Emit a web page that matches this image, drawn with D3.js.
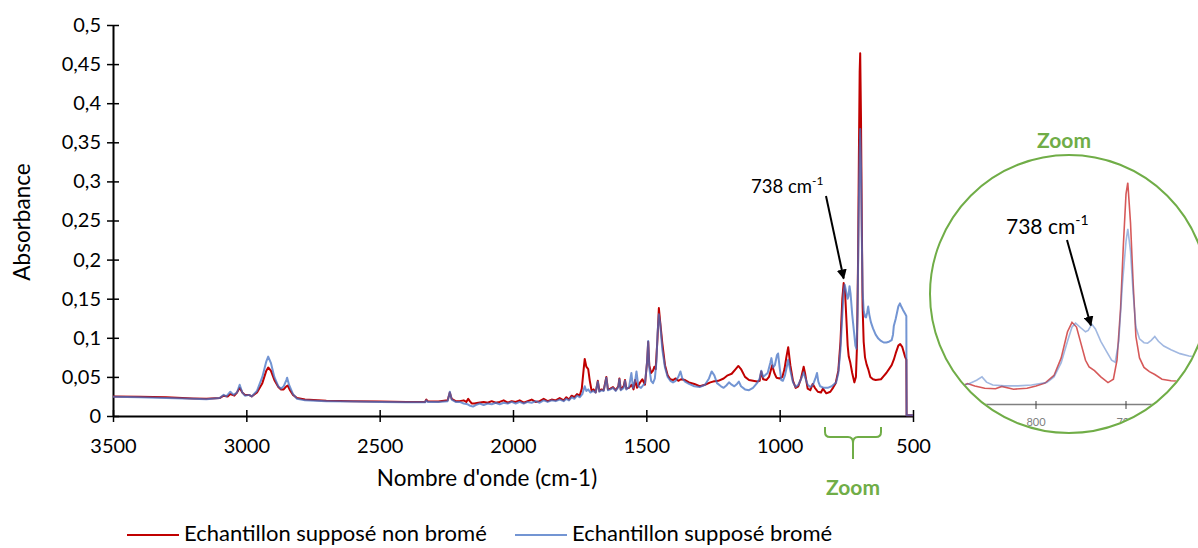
<!DOCTYPE html>
<html><head><meta charset="utf-8">
<script src="https://cdn.jsdelivr.net/npm/d3@7"></script>
<style>body{margin:0;background:#fff}svg{display:block}text{font-family:Lato,"Open Sans",sans-serif}</style>
</head><body><svg id="c" width="1198" height="548"></svg>
<script>
// ---------- data (wavenumber cm-1, absorbance) ----------
const xTicks = [3500,3000,2500,2000,1500,1000,500];
const yTicks = [0,0.05,0.1,0.15,0.2,0.25,0.3,0.35,0.4,0.45,0.5];
const seriesNames = ["Echantillon supposé non bromé","Echantillon supposé bromé"];
const redSeries = [
[3500,0.025],[3400,0.0245],[3300,0.024],[3200,0.0225],[3150,0.022],[3100,0.023],[3085,0.026],[3070,0.025],[3060,0.028],[3045,0.026],[3035,0.030],[3025,0.036],[3015,0.030],[3005,0.027],[2990,0.027],[2980,0.025],[2960,0.030],[2940,0.042],[2925,0.058],[2918,0.062],[2908,0.058],[2895,0.046],[2880,0.037],[2870,0.034],[2860,0.034],[2850,0.038],[2845,0.039],[2838,0.034],[2825,0.027],[2810,0.023],[2780,0.021],[2700,0.0195],[2600,0.019],[2500,0.0185],[2400,0.018],[2330,0.018],[2325,0.021],[2320,0.019],[2280,0.0185],[2245,0.020],[2237,0.030],[2230,0.022],[2215,0.019],[2200,0.019],[2185,0.020],[2175,0.018],[2168,0.022],[2162,0.019],[2155,0.016],[2145,0.016],[2130,0.017],[2110,0.018],[2095,0.017],[2080,0.019],[2065,0.017],[2050,0.018],[2035,0.020],[2020,0.017],[2005,0.019],[1990,0.018],[1975,0.020],[1960,0.017],[1945,0.019],[1930,0.021],[1915,0.018],[1900,0.019],[1885,0.022],[1870,0.019],[1855,0.021],[1840,0.020],[1825,0.023],[1810,0.020],[1800,0.024],[1790,0.021],[1780,0.026],[1770,0.024],[1760,0.028],[1750,0.026],[1742,0.035],[1735,0.060],[1731,0.073],[1725,0.063],[1718,0.060],[1712,0.045],[1705,0.032],[1698,0.034],[1690,0.030],[1682,0.045],[1676,0.032],[1668,0.034],[1660,0.033],[1650,0.050],[1644,0.034],[1635,0.035],[1625,0.037],[1615,0.033],[1605,0.038],[1601,0.048],[1596,0.034],[1585,0.038],[1580,0.046],[1575,0.035],[1565,0.036],[1555,0.040],[1548,0.034],[1542,0.046],[1535,0.036],[1525,0.042],[1515,0.047],[1505,0.040],[1497,0.070],[1493,0.095],[1489,0.065],[1482,0.055],[1475,0.058],[1470,0.063],[1465,0.060],[1458,0.100],[1453,0.138],[1448,0.120],[1440,0.093],[1430,0.065],[1420,0.052],[1410,0.047],[1400,0.046],[1390,0.048],[1380,0.045],[1370,0.047],[1355,0.046],[1340,0.043],[1320,0.041],[1300,0.038],[1280,0.040],[1260,0.043],[1250,0.044],[1230,0.045],[1210,0.048],[1195,0.052],[1180,0.054],[1165,0.060],[1155,0.064],[1145,0.060],[1130,0.050],[1115,0.046],[1100,0.045],[1085,0.044],[1075,0.045],[1069,0.057],[1062,0.047],[1050,0.046],[1040,0.050],[1028,0.065],[1020,0.055],[1012,0.049],[1000,0.048],[990,0.050],[982,0.060],[975,0.075],[968,0.088],[960,0.065],[950,0.045],[940,0.036],[930,0.038],[920,0.048],[910,0.063],[905,0.055],[895,0.035],[885,0.033],[876,0.041],[868,0.036],[857,0.031],[845,0.030],[838,0.035],[825,0.029],[810,0.031],[800,0.036],[790,0.042],[780,0.058],[772,0.095],[765,0.150],[760,0.170],[755,0.160],[750,0.125],[745,0.090],[741,0.076],[735,0.068],[728,0.055],[720,0.043],[714,0.050],[710,0.090],[706,0.200],[703,0.330],[700,0.440],[698,0.464],[695,0.380],[692,0.250],[689,0.140],[685,0.095],[680,0.075],[674,0.066],[668,0.060],[660,0.050],[650,0.047],[640,0.046],[620,0.047],[610,0.051],[600,0.055],[590,0.060],[580,0.065],[572,0.072],[565,0.080],[555,0.090],[548,0.092],[540,0.088],[530,0.076],[525,0.072],[524,0.001],[500,0.001]
];
const blueSeries = [
[3500,0.0245],[3400,0.024],[3300,0.023],[3200,0.022],[3150,0.0215],[3100,0.023],[3085,0.027],[3075,0.025],[3060,0.031],[3048,0.027],[3035,0.030],[3025,0.040],[3015,0.030],[3005,0.026],[2990,0.027],[2980,0.025],[2960,0.032],[2940,0.050],[2925,0.070],[2918,0.076],[2908,0.068],[2895,0.050],[2880,0.038],[2870,0.035],[2860,0.038],[2850,0.046],[2847,0.049],[2840,0.040],[2825,0.028],[2810,0.022],[2780,0.020],[2700,0.019],[2600,0.0185],[2500,0.018],[2400,0.0175],[2330,0.0175],[2325,0.020],[2320,0.018],[2280,0.018],[2245,0.019],[2237,0.031],[2230,0.021],[2215,0.018],[2200,0.018],[2185,0.016],[2170,0.015],[2160,0.013],[2150,0.012],[2140,0.014],[2125,0.016],[2110,0.014],[2095,0.016],[2080,0.015],[2065,0.017],[2050,0.015],[2035,0.017],[2020,0.016],[2005,0.018],[1990,0.016],[1975,0.018],[1960,0.016],[1945,0.018],[1930,0.017],[1915,0.019],[1900,0.017],[1885,0.020],[1870,0.018],[1855,0.020],[1840,0.019],[1825,0.021],[1810,0.019],[1800,0.022],[1790,0.020],[1780,0.024],[1770,0.022],[1760,0.026],[1750,0.024],[1740,0.028],[1731,0.038],[1725,0.032],[1718,0.034],[1710,0.030],[1700,0.032],[1690,0.030],[1682,0.044],[1676,0.031],[1668,0.033],[1660,0.032],[1650,0.049],[1644,0.033],[1635,0.034],[1625,0.036],[1615,0.032],[1605,0.037],[1601,0.047],[1596,0.033],[1585,0.036],[1580,0.045],[1575,0.034],[1565,0.037],[1556,0.055],[1550,0.036],[1542,0.045],[1537,0.057],[1530,0.038],[1520,0.036],[1510,0.040],[1505,0.042],[1497,0.070],[1493,0.096],[1489,0.062],[1482,0.045],[1475,0.042],[1468,0.048],[1462,0.070],[1458,0.105],[1453,0.130],[1448,0.118],[1440,0.085],[1430,0.062],[1420,0.050],[1410,0.045],[1400,0.043],[1390,0.045],[1380,0.050],[1372,0.057],[1365,0.048],[1355,0.044],[1340,0.041],[1320,0.038],[1300,0.037],[1280,0.040],[1265,0.048],[1255,0.057],[1245,0.052],[1235,0.042],[1220,0.038],[1210,0.036],[1200,0.039],[1190,0.043],[1180,0.040],[1170,0.038],[1160,0.041],[1153,0.044],[1145,0.038],[1130,0.034],[1115,0.033],[1100,0.036],[1085,0.042],[1075,0.048],[1069,0.058],[1062,0.050],[1055,0.052],[1045,0.055],[1035,0.068],[1031,0.074],[1025,0.062],[1018,0.065],[1010,0.078],[1006,0.080],[1000,0.062],[994,0.046],[988,0.045],[980,0.052],[975,0.060],[968,0.072],[960,0.058],[950,0.043],[940,0.037],[930,0.040],[920,0.047],[910,0.056],[905,0.050],[895,0.040],[885,0.037],[875,0.040],[866,0.048],[860,0.055],[855,0.044],[848,0.038],[835,0.036],[820,0.036],[805,0.038],[795,0.041],[788,0.043],[780,0.055],[772,0.085],[765,0.130],[760,0.160],[756,0.168],[750,0.158],[745,0.150],[742,0.153],[738,0.166],[734,0.156],[728,0.130],[722,0.110],[716,0.090],[712,0.086],[708,0.130],[704,0.250],[700,0.340],[698,0.367],[695,0.320],[692,0.230],[689,0.160],[685,0.135],[680,0.127],[676,0.126],[672,0.132],[668,0.140],[664,0.130],[658,0.120],[650,0.112],[640,0.104],[630,0.099],[620,0.096],[610,0.094],[600,0.094],[590,0.095],[580,0.097],[575,0.104],[572,0.115],[565,0.124],[560,0.132],[555,0.140],[549,0.144],[544,0.140],[538,0.136],[530,0.131],[525,0.128],[524,0.001],[500,0.001]
];
const annotationLabel = "738 cm";
const annotationSup = "-1";
const insetTicks = [800,700];

// ---------- chart ----------
const svg = d3.select("#c");
const red = "#c00000", blue = "#4472c4", green = "#70ad47";
const x = d3.scaleLinear().domain([3500,500]).range([113,913]);
const y = d3.scaleLinear().domain([0,0.5]).range([416,25]);
const fmt = v => String(+v.toFixed(2)).replace(".", ",");

// y axis
const gy = svg.append("g").attr("transform","translate(113,0)")
  .call(d3.axisLeft(y).tickValues(yTicks).tickFormat(fmt).tickSizeInner(6).tickSizeOuter(0).tickPadding(6));
gy.selectAll(".tick line").attr("x1",-6).attr("x2",6);
// x axis
const gx = svg.append("g").attr("transform","translate(0,416)")
  .call(d3.axisBottom(x).tickValues(xTicks).tickFormat(d3.format("d")).tickSizeInner(6).tickSizeOuter(0).tickPadding(17));
gx.selectAll(".tick line").attr("y1",-6).attr("y2",6);
[gx,gy].forEach(g=>{
  g.select(".domain").attr("stroke","#000").attr("stroke-width",2);
  g.selectAll(".tick line").attr("stroke","#000").attr("stroke-width",1.5);
  g.selectAll(".tick text").attr("fill","#000").style("font-size","20px").style("font-family","Lato");
});

svg.append("text").attr("transform","translate(30,222) rotate(-90)").attr("text-anchor","middle")
  .style("font-size","22.5px").text("Absorbance");
svg.append("text").attr("x",487).attr("y",486).attr("text-anchor","middle")
  .style("font-size","22.5px").text("Nombre d'onde (cm-1)");

const line = d3.line().x(d=>x(d[0])).y(d=>y(d[1]));
svg.append("path").datum(redSeries).attr("d",line).attr("fill","none").attr("stroke",red).attr("stroke-width",2).attr("stroke-linejoin","round");
svg.append("path").datum(blueSeries).attr("d",line).attr("fill","none").attr("stroke",blue).attr("stroke-opacity",0.75).attr("stroke-width",2).attr("stroke-linejoin","round");

// arrow marker
const defs = svg.append("defs");
defs.append("marker").attr("id","ah").attr("viewBox","0 0 10 10").attr("refX",9).attr("refY",5)
  .attr("markerWidth",5).attr("markerHeight",5).attr("orient","auto")
  .append("path").attr("d","M0,0L10,5L0,10z").attr("fill","#000");

// main annotation
const t1 = svg.append("text").attr("x",751).attr("y",193).style("font-size","18.5px").text(annotationLabel);
t1.append("tspan").attr("dy",-8).style("font-size","12px").text(annotationSup);
svg.append("line").attr("x1",826).attr("y1",196).attr("x2",x(760)).attr("y2",y(0.172)-3)
  .attr("stroke","#000").attr("stroke-width",2).attr("marker-end","url(#ah)");

// brace + Zoom label
const bx0 = x(830), bx1 = x(620), bm = (bx0+bx1)/2;
svg.append("path").attr("d",`M${bx0},427 L${bx0},432 Q${bx0},437 ${bx0+5},437 L${bm-5},437 Q${bm},437 ${bm},443 L${bm},459 M${bm},443 Q${bm},437 ${bm+5},437 L${bx1-5},437 Q${bx1},437 ${bx1},432 L${bx1},427`)
  .attr("fill","none").attr("stroke",green).attr("stroke-width",2);
svg.append("text").attr("x",bm).attr("y",495).attr("text-anchor","middle").attr("fill",green)
  .style("font-size","21px").style("font-weight","bold").text("Zoom");

// inset
const cx = 1069, cy = 294, r = 139;
const xi = d3.scaleLinear().domain([900,600]).range([946,1216]);
const yi = d3.scaleLinear().domain([0,0.5]).range([403,165.6]);
defs.append("clipPath").attr("id","cc").append("circle").attr("cx",cx).attr("cy",cy).attr("r",r-1);
const gi = svg.append("g").attr("clip-path","url(#cc)");
gi.append("line").attr("x1",930).attr("x2",1210).attr("y1",404.5).attr("y2",404.5).attr("stroke","#808080").attr("stroke-width",1.5);
insetTicks.forEach(t=>{
  gi.append("line").attr("x1",xi(t)).attr("x2",xi(t)).attr("y1",401).attr("y2",409).attr("stroke","#404040").attr("stroke-width",1);
  gi.append("text").attr("x",xi(t)).attr("y",426).attr("text-anchor","middle").attr("fill","#808080").style("font-size","11px").text(t);
});
const linei = d3.line().x(d=>xi(d[0])).y(d=>yi(d[1]));
gi.append("path").datum(redSeries).attr("d",linei).attr("fill","none").attr("stroke",red).attr("stroke-opacity",0.65).attr("stroke-width",1.6);
gi.append("path").datum(blueSeries).attr("d",linei).attr("fill","none").attr("stroke",blue).attr("stroke-opacity",0.5).attr("stroke-width",1.6);
svg.append("circle").attr("cx",cx).attr("cy",cy).attr("r",r).attr("fill","none").attr("stroke",green).attr("stroke-width",2);
svg.append("text").attr("x",1064).attr("y",148).attr("text-anchor","middle").attr("fill",green)
  .style("font-size","21px").style("font-weight","bold").text("Zoom");
const t2 = svg.append("text").attr("x",1006).attr("y",234).style("font-size","21px").text(annotationLabel);
t2.append("tspan").attr("dy",-9).style("font-size","14px").text(annotationSup);
svg.append("line").attr("x1",1067).attr("y1",240).attr("x2",xi(739)).attr("y2",yi(0.155)-4)
  .attr("stroke","#000").attr("stroke-width",2).attr("marker-end","url(#ah)");

// legend
const leg = [{n:seriesNames[0],c:red,o:1,x0:127},{n:seriesNames[1],c:blue,o:0.75,x0:515}];
leg.forEach(l=>{
  svg.append("line").attr("x1",l.x0).attr("x2",l.x0+52).attr("y1",535).attr("y2",535).attr("stroke",l.c).attr("stroke-opacity",l.o).attr("stroke-width",2);
  svg.append("text").attr("x",l.x0+57).attr("y",541).style("font-size","22px").text(l.n);
});
</script></body></html>
